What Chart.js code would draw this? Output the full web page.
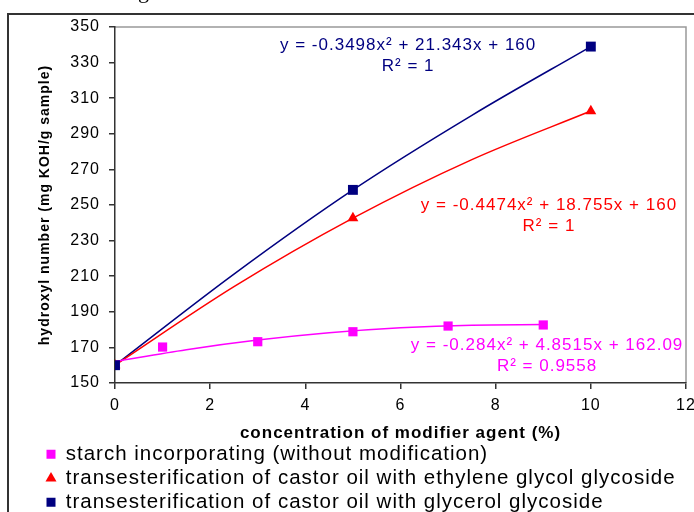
<!DOCTYPE html>
<html>
<head>
<meta charset="utf-8">
<script src="https://cdn.jsdelivr.net/npm/chart.js@4.4.1/dist/chart.umd.min.js"></script>
<style>
    html, body { margin: 0; padding: 0; background: #fff; }
</style>
</head>
<body>
<canvas id="myChart" width="694" height="512"></canvas>
<script>
// measured points
const starchConc = [0, 1, 3, 5, 7, 9];
const starchValues = [160, 170.2, 173.2, 178.8, 182, 182.6];
const glycosideConc = [0, 5, 10];
const ethyleneValues = [160, 242.6, 302.8];
const glycerolValues = [160, 258.5, 339];

// trendlines
const trendConc = [0, 2.5, 5, 7.5, 10];
const ethyleneTrend = [160, 204.1, 242.6, 275.5, 302.8];
const glycerolTrend = [160, 211.2, 258.5, 300.4, 339];
const starchTrendConc = [0, 1.5, 3, 4.5, 6, 7.5, 9];
const starchTrend = [162.1, 168.7, 174.1, 178.2, 181, 182.5, 182.8];

const seriesNames = [
    'starch incorporating (without modification)',
    'transesterification of castor oil with ethylene glycol glycoside',
    'transesterification of castor oil with glycerol glycoside'
];
const equations = [
    'y = -0.284x² + 4.8515x + 162.09',
    'y = -0.4474x² + 18.755x + 160',
    'y = -0.3498x² + 21.343x + 160'
];
const rSquared = ['R² = 0.9558', 'R² = 1', 'R² = 1'];
const xTicks = [0, 2, 4, 6, 8, 10, 12];
const yTicks = [150, 170, 190, 210, 230, 250, 270, 290, 310, 330, 350];

const MAGENTA = '#ff00ff';
const RED = '#ff0000';
const NAVY = '#000080';
const FONT = '"Liberation Sans", Arial, sans-serif';

const toPoints = (xs, ys) => xs.map((x, i) => ({ x: x, y: ys[i] }));

// where the equation labels sit (data coords of the text centre)
const eqAnchors = [
    { x: 9.08, y: 171.3, color: MAGENTA },
    { x: 9.12, y: 250, color: RED },
    { x: 6.16, y: 339.9, color: NAVY }
];

const framePlugin = {
    id: 'frame',
    beforeUpdate(chart) {
        // the source picture is a bit stretched sideways, loosen the text
        chart.ctx.letterSpacing = '1px';
    },
    beforeDraw(chart) {
        const ctx = chart.ctx;
        const a = chart.chartArea;
        ctx.letterSpacing = '1px';
        ctx.save();
        ctx.fillStyle = '#fff';
        ctx.fillRect(0, 0, chart.width, chart.height);
        ctx.strokeStyle = '#333';
        ctx.lineWidth = 2;
        ctx.strokeRect(8, 14, chart.width + 20, chart.height + 20);
        // bit of the caption above, cut off by the crop
        ctx.fillStyle = '#000';
        ctx.font = '22px "Liberation Serif", serif';
        ctx.textAlign = 'center';
        ctx.textBaseline = 'alphabetic';
        ctx.fillText('g', 144, -2);
        // grey top and right edge of plot area
        ctx.strokeStyle = '#999';
        ctx.lineWidth = 1.5;
        ctx.beginPath();
        ctx.moveTo(a.left, a.top);
        ctx.lineTo(a.right, a.top);
        ctx.lineTo(a.right, a.bottom);
        ctx.stroke();
        ctx.restore();
    },
    afterDraw(chart) {
        const ctx = chart.ctx;
        const xs = chart.scales.x;
        const ys = chart.scales.y;
        ctx.save();
        ctx.font = '17px ' + FONT;
        ctx.textAlign = 'center';
        ctx.textBaseline = 'middle';
        eqAnchors.forEach((p, i) => {
            const px = xs.getPixelForValue(p.x);
            const py = ys.getPixelForValue(p.y);
            ctx.fillStyle = p.color;
            ctx.fillText(equations[i], px, py);
            ctx.fillText(rSquared[i], px, py + 21);
        });
        ctx.restore();
    }
};

const ctx = document.getElementById('myChart');
new Chart(ctx, {
    type: 'scatter',
    data: {
        datasets: [
            {
                label: seriesNames[0],
                data: toPoints(starchConc, starchValues),
                pointStyle: 'rect',
                pointRadius: 6.5,
                backgroundColor: MAGENTA,
                borderColor: MAGENTA,
                borderWidth: 0,
                order: 2
            },
            {
                label: seriesNames[1],
                data: toPoints(glycosideConc, ethyleneValues),
                pointStyle: 'triangle',
                pointRadius: 6.3,
                backgroundColor: RED,
                borderColor: RED,
                borderWidth: 0,
                order: 1
            },
            {
                label: seriesNames[2],
                data: toPoints(glycosideConc, glycerolValues),
                pointStyle: 'rect',
                pointRadius: 7,
                backgroundColor: NAVY,
                borderColor: NAVY,
                borderWidth: 0,
                order: 0
            },
            {
                label: 'trend starch',
                data: toPoints(starchTrendConc, starchTrend),
                showLine: true,
                pointRadius: 0,
                borderColor: MAGENTA,
                borderWidth: 1.5,
                cubicInterpolationMode: 'monotone',
                order: 5
            },
            {
                label: 'trend ethylene',
                data: toPoints(trendConc, ethyleneTrend),
                showLine: true,
                pointRadius: 0,
                borderColor: RED,
                borderWidth: 1.5,
                cubicInterpolationMode: 'monotone',
                order: 5
            },
            {
                label: 'trend glycerol',
                data: toPoints(trendConc, glycerolTrend),
                showLine: true,
                pointRadius: 0,
                borderColor: NAVY,
                borderWidth: 1.5,
                cubicInterpolationMode: 'monotone',
                order: 5
            }
        ]
    },
    options: {
        responsive: false,
        animation: false,
        layout: { padding: { left: 43, right: 8, top: 27, bottom: -10.5 } },
        scales: {
            x: {
                type: 'linear',
                min: xTicks[0],
                max: xTicks[xTicks.length - 1],
                afterBuildTicks: (scale) => { scale.ticks = xTicks.map(v => ({ value: v })); },
                afterFit: (scale) => { scale.height = 57.5; scale.paddingLeft = 0; scale.paddingRight = 0; },
                grid: { drawOnChartArea: false, drawTicks: true, tickLength: 6, color: '#333', lineWidth: 1.5 },
                border: { color: '#333', width: 1.5 },
                ticks: { color: '#000', padding: 7.4, font: { size: 16, family: FONT } },
                title: {
                    display: true,
                    text: 'concentration of modifier agent (%)',
                    color: '#000',
                    font: { size: 17, weight: 'bold', family: FONT },
                    padding: { top: 0, bottom: -2.7 }
                }
            },
            y: {
                type: 'linear',
                min: yTicks[0],
                max: yTicks[yTicks.length - 1],
                afterBuildTicks: (scale) => { scale.ticks = yTicks.map(v => ({ value: v })); },
                afterFit: (scale) => { scale.width = 72; scale.paddingTop = 0; scale.paddingBottom = 0; },
                grid: { drawOnChartArea: false, drawTicks: true, tickLength: 6, color: '#333', lineWidth: 1.5 },
                border: { color: '#333', width: 1.5 },
                ticks: { color: '#000', padding: 9, font: { size: 16, family: FONT } },
                title: {
                    display: true,
                    text: 'hydroxyl number (mg KOH/g sample)',
                    color: '#000',
                    font: { size: 14, weight: 'bold', family: FONT },
                    padding: { top: -6.4, bottom: 0 }
                }
            }
        },
        plugins: {
            tooltip: { enabled: false },
            legend: {
                position: 'bottom',
                align: 'start',
                labels: {
                    usePointStyle: true,
                    boxWidth: 9,
                    boxHeight: 9,
                    padding: 3.5,
                    color: '#000',
                    font: { size: 20.5, family: FONT },
                    filter: (item) => item.datasetIndex < 3,
                    sort: (a, b) => a.datasetIndex - b.datasetIndex
                }
            }
        }
    },
    plugins: [framePlugin]
});
</script>
</body>
</html>
